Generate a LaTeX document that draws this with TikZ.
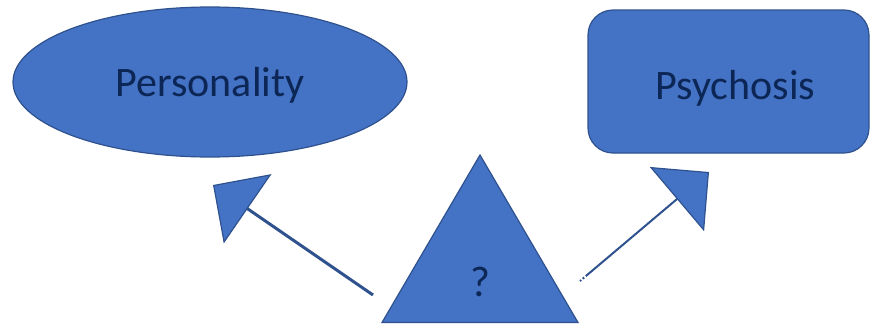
\documentclass[tikz,border=0pt]{standalone}
\usepackage{fontspec}
\setmainfont{Carlito}
\usetikzlibrary{arrows.meta,shapes.geometric}
\definecolor{shapefill}{HTML}{4472C4}
\definecolor{shapeline}{HTML}{2F528F}
\definecolor{labeltext}{HTML}{0C2656}
\tikzset{
  shapebox/.style={fill=shapefill, draw=shapeline, line width=1.2pt},
  labelstyle/.style={text=labeltext, inner sep=0pt, anchor=base},
  bigarrow/.style={draw=shapeline, -{Triangle[length=42pt,width=84pt,fill=shapefill,line width=1.2pt]}}
}
\begin{document}
\begin{tikzpicture}[x=1pt,y=-1pt]
\useasboundingbox (0,0) rectangle (870,324);
% Personality ellipse
\draw[shapebox] (210,82) ellipse [x radius=197, y radius=75];
\node[labelstyle, font=\fontsize{42}{45}\selectfont] (pers) at (210,96) {Personality};
% Psychosis rounded rectangle
\draw[shapebox, rounded corners=25pt] (588,10) rectangle (869,153);
\node[labelstyle, font=\fontsize{42}{45}\selectfont] (psy) at (735.5,99) {Psychosis};
% Triangle
\draw[shapebox, line join=miter] (480,155) -- (578,322.5) -- (382,322.5) -- cycle;
\node[labelstyle, font=\fontsize{43}{46}\selectfont] (q) at (480.5,296) {?};
% connectors
\coordinate (s1) at (373,295);
\coordinate (t1) at (213,185);
\coordinate (s2) at (580,281);
\coordinate (t2) at (709,172);
\draw[bigarrow, line width=3pt] (s1) -- (t1);
\draw[bigarrow, line width=2pt, dash pattern=on 1.5pt off 2pt on 2pt off 2pt on 300pt] (s2) -- (t2);
\end{tikzpicture}
\end{document}
